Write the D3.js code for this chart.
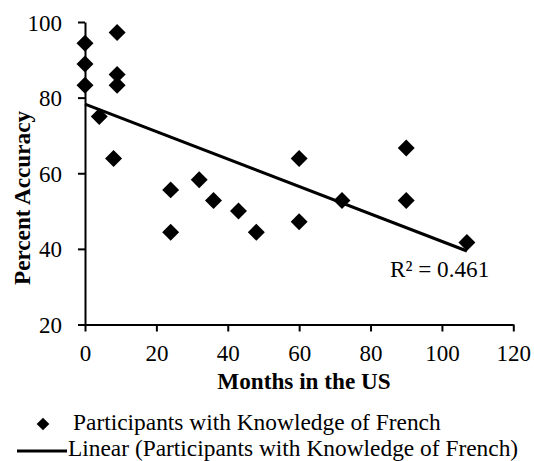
<!DOCTYPE html>
<html><head><meta charset="utf-8">
<script src="https://cdn.jsdelivr.net/npm/d3@7"></script>
<style>body{margin:0;background:#fff}svg{display:block}</style>
</head><body>
<svg id="c" width="534" height="461" style="font-family:'Liberation Serif',serif"></svg>
<script>
const months = [0,0,0,9,9,9,4,8,24,24,32,36,43,48,60,60,72,90,90,107];
const accuracy = [94.4,88.9,83.3,97.2,86.1,83.3,75,63.9,55.6,44.4,58.3,52.8,50,44.4,63.9,47.2,52.8,66.7,52.8,41.7];
const xTicks = [0,20,40,60,80,100,120];
const yTicks = [20,40,60,80,100];
const xTitle = "Months in the US";
const yTitle = "Percent Accuracy";
const seriesName = "Participants with Knowledge of French";
const trendName = "Linear (Participants with Knowledge of French)";
const r2Label = "R² = 0.461";

const FONT = "'Liberation Serif',serif";
const svg = d3.select("#c");
const x = d3.scaleLinear().domain([0,120]).range([85,513.3]);
const y = d3.scaleLinear().domain([20,100]).range([324.5,22]);

const xAxis = svg.append("g").attr("transform",`translate(0,${y(20)})`)
  .call(d3.axisBottom(x).tickValues(xTicks).tickSize(7).tickPadding(13).tickSizeOuter(0));
const yAxis = svg.append("g").attr("transform",`translate(${x(0)},0)`)
  .call(d3.axisLeft(y).tickValues(yTicks).tickSize(7).tickPadding(16).tickSizeOuter(0));
[xAxis,yAxis].forEach(g=>{
  g.attr("font-family",FONT).attr("font-size",23);
  g.selectAll("path,line").attr("stroke","#000").attr("stroke-width",2);
  g.selectAll("text").attr("fill","#000");
});
yAxis.selectAll("text").attr("dy","0.35em");
xAxis.selectAll("text").attr("dy","0.71em");

// linear regression (least squares from the data)
const mx = d3.mean(months), my = d3.mean(accuracy);
const slope = d3.sum(months.map((v,i)=>(v-mx)*(accuracy[i]-my)))/d3.sum(months.map(v=>(v-mx)*(v-mx)));
const icpt = my - slope*mx;
const x0 = 0, x1 = d3.max(months);
svg.append("line").attr("x1",x(x0)).attr("y1",y(icpt+slope*x0))
  .attr("x2",x(x1)).attr("y2",y(icpt+slope*x1)).attr("stroke","#000").attr("stroke-width",3);

const sym = d3.symbol().type(d3.symbolSquare).size(144);
svg.append("g").selectAll("path").data(months).join("path")
  .attr("d",sym).attr("fill","#000")
  .attr("transform",(d,i)=>`translate(${x(d)},${y(accuracy[i])}) rotate(45)`);

svg.append("text").attr("x",390).attr("y",277).attr("font-size",23.2).attr("font-family",FONT).text(r2Label);

svg.append("text").attr("x",304).attr("y",389).attr("text-anchor","middle").attr("font-family",FONT)
  .attr("font-size",23.2).attr("font-weight","bold").text(xTitle);
svg.append("text").attr("transform",`translate(30,198) rotate(-90)`).attr("text-anchor","middle").attr("font-family",FONT)
  .attr("font-size",23.2).attr("font-weight","bold").text(yTitle);

// legend
svg.append("path").attr("d",d3.symbol().type(d3.symbolSquare).size(81)).attr("fill","#000")
  .attr("transform","translate(43,424) rotate(45)");
svg.append("text").attr("x",73).attr("y",430).attr("font-size",23.4).attr("font-family",FONT).text(seriesName);
svg.append("line").attr("x1",17).attr("x2",67).attr("y1",451).attr("y2",451).attr("stroke","#000").attr("stroke-width",3);
svg.append("text").attr("x",68).attr("y",456).attr("font-size",23.4).attr("font-family",FONT).text(trendName);
</script>
</body></html>
